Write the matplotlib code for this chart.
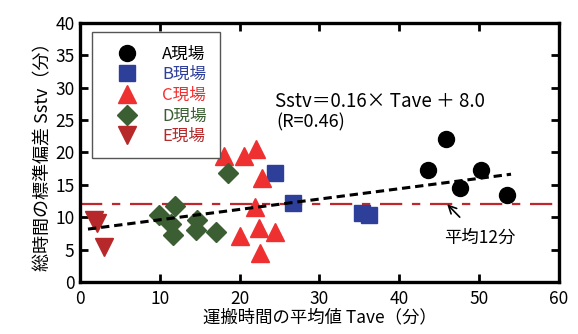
import numpy as np
import matplotlib
matplotlib.use("Agg")
import matplotlib.pyplot as plt

plt.rcParams['font.family'] = ['Noto Sans CJK JP', 'DejaVu Sans']
plt.rcParams['lines.scale_dashes'] = False

# data (Tave, Sstv)
a_x = [43.6, 45.8, 47.6, 50.2, 53.5]
a_y = [17.3, 22.1, 14.5, 17.3, 13.4]
b_x = [24.4, 26.7, 35.3, 36.2]
b_y = [16.9, 12.2, 10.7, 10.4]
c_x = [18.0, 20.5, 22.0, 22.8, 21.9, 20.1, 22.4, 24.4, 22.6]
c_y = [19.5, 19.5, 20.5, 16.0, 11.5, 7.1, 8.3, 7.7, 4.4]
d_x = [18.6, 9.9, 11.9, 11.4, 11.7, 14.6, 14.5, 17.1]
d_y = [16.8, 10.3, 11.7, 9.0, 7.3, 9.6, 8.0, 7.7]
e_x = [1.7, 2.1, 3.0]
e_y = [9.6, 9.1, 5.4]

labels = ['A現場', 'B現場', 'C現場', 'D現場', 'E現場']
colors = ['black', '#2e3f99', '#ef3030', '#3b5e33', '#b62829']

slope, intercept = 0.16, 8.0
fit_range = [1.0, 54.0]
mean_val = 12

fig = plt.figure(figsize=(5.78, 3.34), dpi=100)
ax = fig.add_axes([0.1384, 0.156, 0.8286, 0.775])

# reference mean line
ax.axhline(mean_val, color='#c0272d', lw=1.6, dashes=[16, 7, 6, 7], zorder=1)

# regression line
fx = np.array(fit_range)
ax.plot(fx, slope * fx + intercept, color='black', lw=2.2, dashes=[6, 3.5], zorder=5)

ax.plot(a_x, a_y, 'o', ms=11.5, color=colors[0], label=labels[0], zorder=3)
ax.plot(b_x, b_y, 's', ms=12, color=colors[1], label=labels[1], zorder=3)
ax.plot(c_x, c_y, '^', ms=13, color=colors[2], label=labels[2], zorder=3)
ax.plot(d_x, d_y, 'D', ms=10, color=colors[3], label=labels[3], zorder=3)
ax.plot(e_x, e_y, 'v', ms=13, color=colors[4], label=labels[4], zorder=3)

ax.set_xlim(0, 60)
ax.set_ylim(0, 40)
ax.set_xticks(range(0, 61, 10))
ax.set_yticks(range(0, 41, 5))
ax.tick_params(direction='in', length=6, width=2, labelsize=12.5,
               top=True, right=True, pad=4)
ax.tick_params(axis='x', pad=6)
for sp in ax.spines.values():
    sp.set_linewidth(2.4)

ax.set_xlabel('運搬時間の平均値 Tave（分）', fontsize=12.5, labelpad=0)
ax.set_ylabel('総時間の標準偏差 Sstv（分）', fontsize=13, labelpad=2)

ax.text(24.4, 27.8, 'Sstv＝0.16× Tave ＋ 8.0', fontsize=13.5, va='center', ha='left')
ax.text(24.6, 24.6, '(R=0.46)', fontsize=13, va='center', ha='left')

ax.annotate('平均12分', xy=(46.0, 12.0), xytext=(50.1, 6.8), fontsize=12.5,
            ha='center', va='center',
            arrowprops=dict(arrowstyle='->', color='black', lw=1.2,
                            shrinkA=9, shrinkB=0, mutation_scale=14))

leg = ax.legend(loc='upper left', bbox_to_anchor=(0.025, 0.965), borderaxespad=0,
                fancybox=False, edgecolor='#555555', framealpha=1, fontsize=12,
                labelcolor='markerfacecolor', handletextpad=0.8, borderpad=0.8,
                labelspacing=0.22, handlelength=2.6)
leg.get_frame().set_linewidth(1.0)

fig.savefig('out.png', dpi=100)
